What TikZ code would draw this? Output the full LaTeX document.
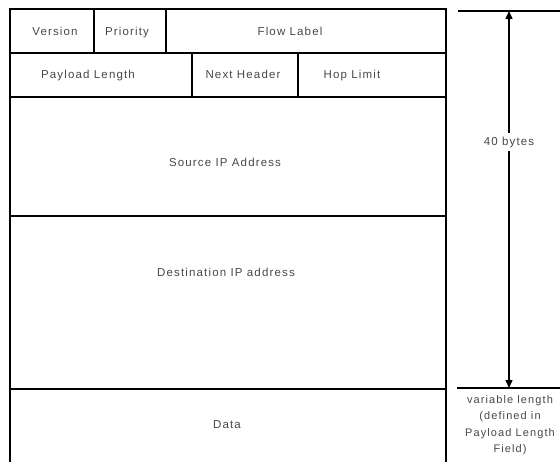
\documentclass[tikz,border=0pt]{standalone}
\usepackage{fontspec}
\setmainfont{Liberation Sans}[LetterSpace=10]
\usetikzlibrary{arrows.meta}
\begin{document}
\begin{tikzpicture}[x=1pt,y=-1pt,
  box/.style={draw=black,line width=1.4pt},
  lbl/.style={font=\fontsize{11.5}{13}\selectfont,text=black!72,inner sep=1pt,text height=1.6ex,text depth=0.45ex},
  dim/.style={draw=black,line width=1.4pt}]
\useasboundingbox (0,0) rectangle (560,461);
% outer frame
\draw[box] (10,475) -- (10,9) -- (446,9) -- (446,475);
\draw[box] (10,53) -- (446,53);
\draw[box] (10,97) -- (446,97);
\draw[box] (10,216) -- (446,216);
\draw[box] (10,389) -- (446,389);
\draw[box] (94,9) -- (94,53);
\draw[box] (166,9) -- (166,53);
\draw[box] (192,53) -- (192,97);
\draw[box] (298,53) -- (298,97);
% labels
\node[lbl] (ver) at (55,32) {Version};
\node[lbl] (pri) at (127,32) {Priority};
\node[lbl] (flow) at (290,32) {Flow Label};
\node[lbl] (pay) at (88,75) {Payload Length};
\node[lbl] (nh) at (243,75) {Next Header};
\node[lbl] (hop) at (352,75) {Hop Limit};
\node[lbl] (src) at (225,163) {Source IP Address};
\node[lbl] (dst) at (226,273) {Destination IP address};
\node[lbl] (data) at (227,425) {Data};
% dimension
\coordinate (ttl) at (458,11);
\coordinate (ttr) at (560,11);
\coordinate (btl) at (457,388);
\coordinate (btr) at (560,388);
\coordinate (atop) at (509,11);
\coordinate (abot) at (509,388);
\draw[dim] (ttl) -- (ttr);
\draw[dim] (btl) -- (btr);
\draw[dim,{Triangle[length=8pt,width=7pt]}-{Triangle[length=8pt,width=7pt]}] (atop) -- (abot);
\node[lbl,fill=white,inner sep=4pt] (forty) at (509,142) {40 bytes};
\node[align=center,font=\fontsize{11}{16.5}\selectfont,text=black!72,inner sep=1pt] (var) at (510,425) {variable length\\(defined in\\Payload Length\\Field)};
\end{tikzpicture}
\end{document}
